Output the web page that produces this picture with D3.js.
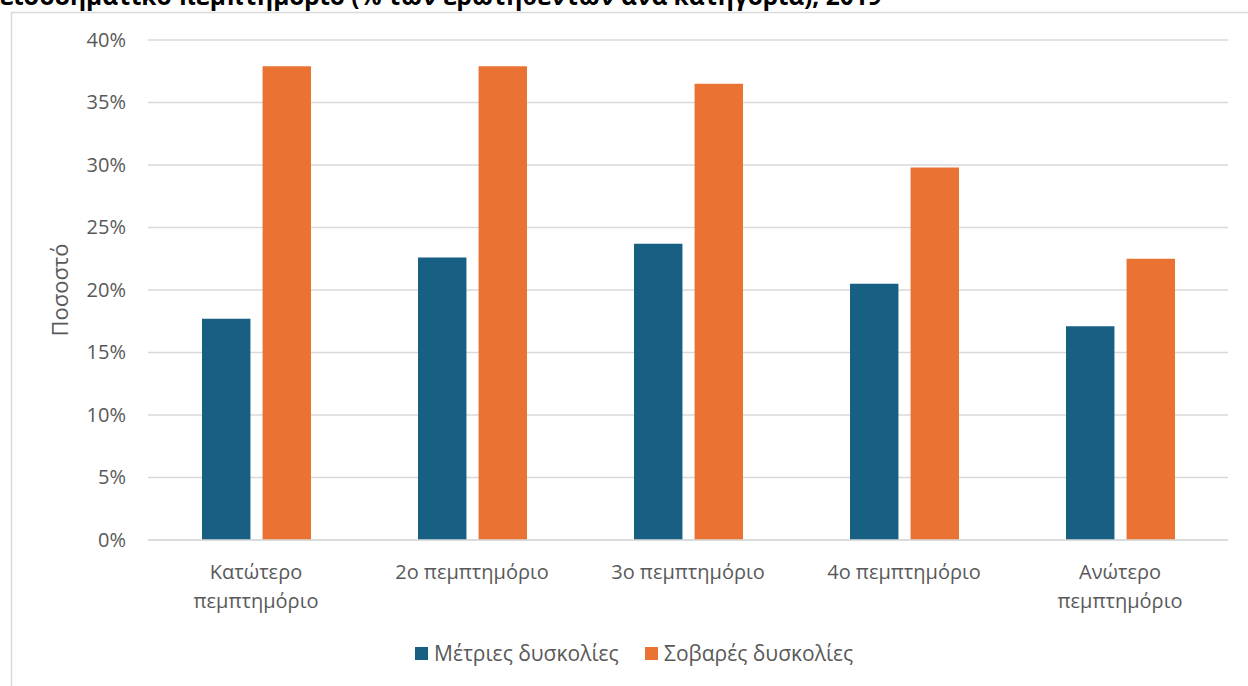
<!DOCTYPE html>
<html>
<head>
<meta charset="utf-8">
<script src="https://cdn.jsdelivr.net/npm/d3@7"></script>
<style>
  body { margin: 0; background: #fff; }
  svg { display: block; font-family: "Open Sans", sans-serif; }
</style>
</head>
<body>
<div id="chart"></div>
<script>
// Data
var categories = ["Κατώτερο πεμπτημόριο", "2ο πεμπτημόριο", "3ο πεμπτημόριο", "4ο πεμπτημόριο", "Ανώτερο πεμπτημόριο"];
var seriesNames = ["Μέτριες δυσκολίες", "Σοβαρές δυσκολίες"];
var moderate = [17.7, 22.6, 23.7, 20.5, 17.1];
var severe = [37.9, 37.9, 36.5, 29.8, 22.5];
var yTicks = [0, 5, 10, 15, 20, 25, 30, 35, 40];
var colors = ["#175f83", "#ea7334"];

var W = 1248, H = 686;
var margin = { top: 40, right: 20, bottom: 146, left: 148 },
    width = 1228 - margin.left,
    height = 540 - margin.top;

var svg = d3.select('#chart').append('svg')
    .attr('width', W)
    .attr('height', H);

// chart frame (partly off-page)
svg.append('rect')
    .attr('x', 11.5).attr('y', 12.5)
    .attr('width', W).attr('height', H)
    .attr('fill', 'none')
    .attr('stroke', '#d9d9d9')
    .attr('stroke-width', 1.5);

// title, cut off at the top as in the source
svg.append('text')
    .attr('x', 0).attr('y', 5)
    .attr('font-size', 24.5)
    .attr('font-weight', 'bold')
    .attr('fill', '#000')
    .text('εισοδηματικό πεμπτημόριο (% των ερωτηθέντων ανά κατηγορία), 2019');

var g = svg.append('g')
    .attr('transform', 'translate(' + margin.left + ',' + margin.top + ')');

var x0 = d3.scaleBand().domain(categories).range([0, width]);
var x1 = d3.scaleBand().domain(seriesNames).range([54, 163]).paddingInner(0.2);
var y = d3.scaleLinear().domain([0, 40]).range([height, 0]);

// gridlines
g.selectAll('.grid')
    .data(yTicks)
    .enter().append('line')
    .attr('x1', 0).attr('x2', width)
    .attr('y1', function (d) { return y(d); })
    .attr('y2', function (d) { return y(d); })
    .attr('stroke', '#d9d9d9')
    .attr('stroke-width', 1.5);

// y axis labels
var yAxis = g.append('g')
    .call(d3.axisLeft(y).tickValues(yTicks).tickSize(0).tickPadding(22)
        .tickFormat(function (d) { return d + '%'; }));
yAxis.select('.domain').remove();
yAxis.selectAll('text')
    .style('font', 'normal 20px "Open Sans"')
    .attr('fill', '#595959');

// y axis title
g.append('text')
    .attr('transform', 'translate(-80,' + y(20) + ') rotate(-90)')
    .attr('text-anchor', 'middle')
    .attr('font-size', 22)
    .attr('fill', '#595959')
    .text('Ποσοστό');

// bars
var data = categories.map(function (c, i) {
    return { cat: c, values: [moderate[i], severe[i]] };
});

var groups = g.selectAll('.cat')
    .data(data)
    .enter().append('g')
    .attr('transform', function (d) { return 'translate(' + x0(d.cat) + ',0)'; });

groups.selectAll('rect')
    .data(function (d) { return d.values.map(function (v, j) { return { s: seriesNames[j], v: v, j: j }; }); })
    .enter().append('rect')
    .attr('x', function (d) { return x1(d.s); })
    .attr('width', x1.bandwidth())
    .attr('y', function (d) { return y(d.v); })
    .attr('height', function (d) { return height - y(d.v); })
    .attr('fill', function (d) { return colors[d.j]; });

// x axis line on top of bars
g.append('line')
    .attr('x1', 0).attr('x2', width)
    .attr('y1', height).attr('y2', height)
    .attr('stroke', '#d9d9d9')
    .attr('stroke-width', 1.5);

// category labels
var labelLines = {
    "Κατώτερο πεμπτημόριο": ["Κατώτερο", "πεμπτημόριο"],
    "Ανώτερο πεμπτημόριο": ["Ανώτερο", "πεμπτημόριο"]
};
groups.each(function (d) {
    var lines = labelLines[d.cat] || [d.cat];
    var t = d3.select(this).append('text')
        .attr('text-anchor', 'middle')
        .attr('font-size', 20)
        .attr('fill', '#595959');
    lines.forEach(function (l, k) {
        t.append('tspan')
            .attr('x', x0.bandwidth() / 2)
            .attr('y', height + 39 + k * 29)
            .text(l);
    });
});

// legend
var legendX = [415, 645];
var legend = svg.selectAll('.legend')
    .data(seriesNames)
    .enter().append('g')
    .attr('transform', function (d, i) { return 'translate(' + legendX[i] + ',647)'; });
legend.append('rect')
    .attr('width', 13).attr('height', 13)
    .attr('fill', function (d, i) { return colors[i]; });
legend.append('text')
    .attr('x', 19).attr('y', 14)
    .attr('font-size', 21)
    .attr('fill', '#595959')
    .text(function (d) { return d; });
</script>
</body>
</html>
